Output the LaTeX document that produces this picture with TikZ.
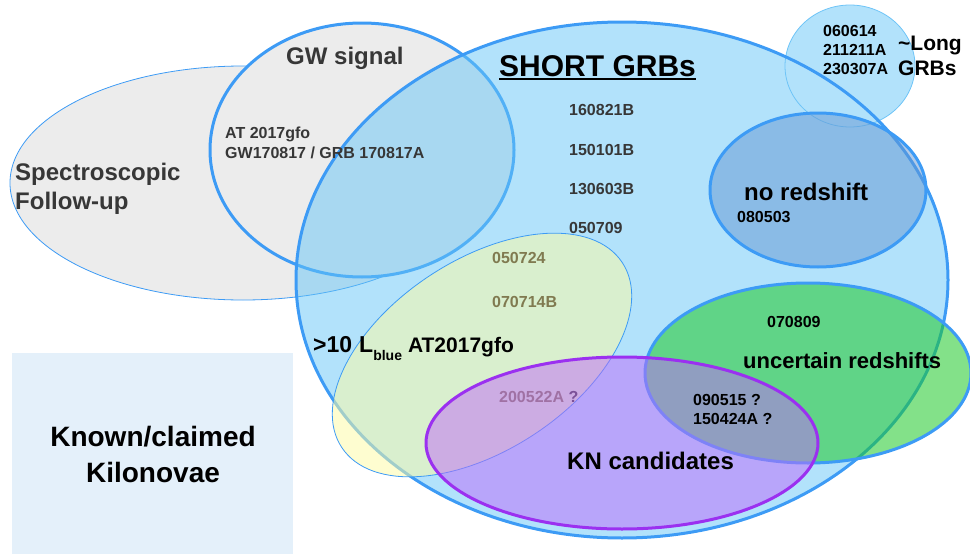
\documentclass[tikz,border=0pt]{standalone}
\usepackage{fontspec}
\setmainfont{Liberation Sans}
\usepackage{xcolor}
\usepackage{tikz}

\definecolor{venblue}{RGB}{61,155,245}
\definecolor{longrim}{RGB}{110,196,247}
\definecolor{grayfill}{RGB}{236,236,236}
\definecolor{skyfill}{RGB}{101,197,247}
\definecolor{longfill}{RGB}{178,226,251}
\definecolor{yelfill}{RGB}{253,251,164}
\definecolor{nozfill}{RGB}{100,150,210}
\definecolor{grnfill}{RGB}{30,200,40}
\definecolor{knfill}{RGB}{192,106,249}
\definecolor{knrim}{RGB}{155,48,240}
\definecolor{numtan}{RGB}{128,122,80}
\definecolor{boxfill}{RGB}{228,240,250}
\definecolor{inkgray}{RGB}{55,55,55}

\begin{document}
\begin{tikzpicture}[x=1pt, y=-1pt,
  rim/.style={draw=venblue, line width=3pt},
  thinrim/.style={draw=venblue, line width=0.8pt},
  lbl/.style 2 args={anchor=base west, inner sep=0pt, align=left,
    font=\bfseries\fontsize{#1}{#2}\selectfont}]
\useasboundingbox (0,0) rectangle (970,554);

\fill[boxfill] (12,353) rectangle (293,554);

\draw[thinrim, fill=grayfill] (243,183) ellipse [x radius=233, y radius=117];
\draw[rim, fill=grayfill] (362,150) ellipse [x radius=152, y radius=127];
\fill[skyfill, fill opacity=0.5] (622,280) ellipse [x radius=326, y radius=258];
\draw[draw=longrim, line width=0.8pt, fill=longfill] (850,66) ellipse [x radius=65, y radius=61];
\draw[rim] (622,280) ellipse [x radius=326, y radius=258];
\begin{scope}[shift={(482,355)}, rotate=33.4]
\draw[thinrim, fill=yelfill, fill opacity=0.52] (0,0) ellipse [x radius=168, y radius=95];
\end{scope}
\draw[rim, fill=nozfill, fill opacity=0.5] (818,190) ellipse [x radius=108, y radius=77];
\draw[rim, fill=grnfill, fill opacity=0.55] (808,373) ellipse [x radius=163, y radius=90];

\node[lbl={16}{19}, numtan] (grb200522) at (499,402) {200522A \textcolor{inkgray}{?}};

\draw[draw=knrim, line width=3pt, fill=knfill, fill opacity=0.5] (622,443) ellipse [x radius=196, y radius=86];

\node[lbl={24}{29}, inkgray] (gwsig) at (286,64) {GW signal};
\node[lbl={16}{20}, inkgray] (at2017) at (225,158) {AT 2017gfo\\GW170817 / GRB 170817A};
\node[lbl={24}{29}, inkgray] (spec) at (15,209) {Spectroscopic\\Follow-up};

\node[lbl={30}{36}] (sgrb) at (499,76) {SHORT GRBs};
\draw[line width=2pt] ([yshift=-3pt]sgrb.base west) -- ([yshift=-3pt]sgrb.base east);
\node[lbl={16}{19}, inkgray] (g160821) at (569,115) {160821B};
\node[lbl={16}{19}, inkgray] (g150101) at (569,155) {150101B};
\node[lbl={16}{19}, inkgray] (g130603) at (569,194) {130603B};
\node[lbl={16}{19}, inkgray] (g050709) at (569,233) {050709};

\node[lbl={16}{19}] (longnums) at (823,74) {060614\\211211A\\230307A};
\node[lbl={21}{25}] (longgrb) at (898,75) {\textasciitilde Long\\GRBs};

\node[lbl={24}{29}] (noz) at (744,200) {no redshift};
\node[lbl={16}{19}] (g080503) at (737,222) {080503};

\node[lbl={16}{19}, numtan] (g050724) at (492,263) {050724};
\node[lbl={16}{19}, numtan] (g070714) at (492,307) {070714B};
\node[lbl={21}{25}] (lblue) at (313,352)
  {{\fontsize{23}{25}\selectfont >10\hspace{7pt}L}\raisebox{-8pt}{\fontsize{14}{14}\selectfont blue}\hspace{6pt}AT2017gfo};

\node[lbl={16}{19}] (g070809) at (767,327) {070809};
\node[lbl={22}{26}] (uncz) at (743,368) {uncertain redshifts};
\node[lbl={16}{19}] (unknums) at (693,424) {090515 ?\\150424A ?};

\node[lbl={24}{29}] (kncand) at (567,469) {KN candidates};

\node[anchor=base, inner sep=0pt, align=center, font=\bfseries\fontsize{28}{36}\selectfont]
  (known) at (153,482) {Known/claimed\\Kilonovae};
\end{tikzpicture}
\end{document}
